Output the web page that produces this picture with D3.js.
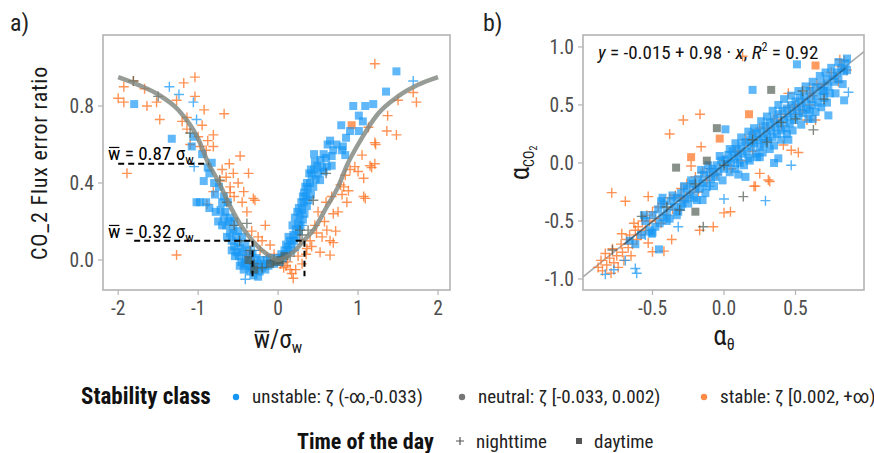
<!DOCTYPE html>
<html>
<head>
<meta charset="utf-8">
<script src="https://cdn.jsdelivr.net/npm/d3@7"></script>
<style>
  body { margin: 0; background: #fff; }
  svg { font-family: "Roboto Condensed", "Liberation Sans Narrow", "DejaVu Sans Condensed", "Noto Sans", sans-serif; }
</style>
</head>
<body>
<div class="plot"></div>
<script>
// ---- panel a data: error ratio vs w/sigma_w ----
var aTicksX = [-2, -1, 0, 1, 2];
var aTicksY = [0, 0.4, 0.8];
var curveX = [-2, -1.75, -1.5, -1.25, -1, -0.87, -0.75, -0.6, -0.45, -0.32, -0.2, -0.1, 0, 0.1, 0.2, 0.32, 0.45, 0.6, 0.75, 0.87, 1, 1.25, 1.5, 1.75, 2];
var curveY = [0.95, 0.91, 0.86, 0.78, 0.63, 0.5, 0.41, 0.28, 0.17, 0.1, 0.05, 0.02, 0, 0.015, 0.045, 0.1, 0.16, 0.27, 0.38, 0.5, 0.6, 0.76, 0.85, 0.91, 0.95];

var aUnstableDay = [[1.48,0.98],[1.35,0.875],[1.19,0.81],[1.09,0.8],[0.94,0.8],[1.01,0.75],[1.06,0.72],[0.79,0.7],[1.01,0.67],[0.9,0.67],[0.85,0.635],[0.73,0.6],[0.81,0.59],[0.69,0.57],[0.8,0.57],[0.67,0.54],[0.84,0.545],[0.46,0.51],[0.61,0.485],[0.67,0.49],[0.57,0.46],[0.525,0.415],[0.325,0.35],
  [-1.8,0.81],[-1.33,0.63],[-1.08,0.59],[-1.06,0.64],[-0.93,0.41],[-0.83,0.505],[-0.79,0.34],[-0.88,0.48],[-0.98,0.3],[-1.02,0.3],[-0.9,0.3],[-0.86,0.27],[-0.78,0.25],[-0.75,0.2],
  [-0.72,0.26],[-0.7,0.3],[-0.68,0.22],[-0.66,0.25],[-0.65,0.18],[-0.62,0.2],[-0.6,0.14],[-0.6,0.22],[-0.58,0.1],[-0.56,0.16],[-0.55,0.07],[-0.53,0.12],[-0.52,0.04],[-0.5,0.09],[-0.49,0.02],[-0.47,0.06],[-0.46,-0.01],[-0.44,0.04],[-0.42,-0.02],[-0.41,0.08],[-0.4,0.01],[-0.38,-0.03],[-0.37,0.05],[-0.35,0],[-0.33,-0.04],[-0.32,0.03],[-0.3,-0.02],[-0.28,-0.05],[-0.27,0.01],[-0.25,-0.03],[-0.23,-0.06],[-0.22,0],[-0.2,-0.04],[-0.18,-0.02],[-0.16,-0.05],[-0.14,0],[-0.12,-0.03],[-0.1,0.01],[-0.25,-0.087],[-0.45,0.12],[-0.5,0.15],[-0.55,0.2],[-0.63,0.3],[-0.68,0.33],[-0.74,0.38],[-0.8,0.4],[-0.86,0.45],[-0.95,0.55],
  [-0.05,-0.02],[0,0.01],[0.02,-0.01],[0.04,0.03],[0.06,0.01],[0.08,0.05],[0.1,0.03],[0.12,0.07],[0.14,0.05],[0.15,0.1],[0.17,0.08],[0.19,0.13],[0.2,0.1],[0.22,0.16],[0.23,0.12],[0.25,0.19],[0.26,0.15],[0.27,0.23],[0.28,0.18],[0.3,0.26],[0.31,0.21],[0.32,0.3],[0.33,0.24],[0.35,0.33],[0.36,0.28],[0.37,0.37],[0.38,0.31],[0.4,0.4],[0.41,0.34],[0.42,0.44],[0.44,0.38],[0.45,0.47],[0.47,0.42],[0.49,0.49],[0.5,0.45],[0.53,0.52],[0.55,0.48],[0.57,0.55],[0.6,0.53],[0.62,0.6],[0.65,0.62],[0.29,0.3],[0.34,0.38],[0.39,0.45],[0.45,0.55],[0.24,0.25],
  [0.18,0.18],[0.21,0.22],[0.26,0.27],[0.31,0.33],[0.36,0.4],[0.41,0.47],[0.1,0.08],[0.13,0.12],[-0.58,0.05],[-0.54,0.02],[-0.48,-0.03],[-0.43,-0.05],[-0.36,-0.06],[-0.31,-0.08],[-0.64,0.12],[-0.7,0.18]];
var aUnstableNight = [[-1.36,0.9],[-1.24,0.86],[-1.06,0.82],[-1.02,0.73],[-1.05,0.485],[1.69,0.93],[-0.41,-0.1],[-0.3,0.05],[0.2,0.05],[0.3,0.18]];
var aStableNight = [[-2,0.84],[-1.93,0.9],[-1.81,0.93],[-1.67,0.89],[-1.93,0.82],[-1.64,0.8],[-1.52,0.82],[-1.48,0.73],[-1.18,0.92],[-1.04,0.95],[-1.27,0.83],[-1.04,0.85],[-1.14,0.74],[-0.925,0.78],[-1.14,0.68],[-1,0.64],[-0.81,0.65],[-0.675,0.76],[-0.975,0.59],[-0.81,0.59],[-0.9,0.57],[-0.61,0.5],[-0.475,0.54],[-0.37,0.45],[-0.56,0.45],[-1.89,0.45],[-0.725,0.41],[-0.6,0.38],[-0.43,0.355],[-0.31,0.32],[-1.2,0.72],[-1.1,0.6],[-0.95,0.7],[-0.88,0.62],[-0.7,0.47],[-0.65,0.43],[-0.5,0.4],[-0.45,0.3],[-0.55,0.33],
  [1.21,1.02],[1.69,0.87],[1.73,0.82],[1.5,0.83],[1.37,0.75],[1.36,0.67],[1.48,0.65],[1.21,0.61],[1.22,0.6],[1.13,0.69],[1.05,0.545],[0.96,0.485],[1.15,0.49],[1.21,0.5],[0.9,0.47],[1,0.46],[1.17,0.48],[1.07,0.425],[0.84,0.44],[0.82,0.38],[0.88,0.36],[0.8,0.34],[1.07,0.33],[0.67,0.33],
  [0.69,0.09],[0.86,0.3],[1.09,0.32],[0.78,0.39],[0.65,0.025],[0.525,0.04],[0.48,0.14],[0.61,0.155],[0.69,0.24],[0.19,-0.095],[0.15,-0.05],[-1.27,0.026],[-0.16,0.18],[-0.29,0.31],[-0.39,0.25],[-0.6,0.35],[-0.81,0.355],[-0.89,0.29],[-0.1,0.078],[0.275,0.104],[0.36,0.06],[0.46,0.18],
  [0.07,-0.04],[0.03,-0.02],[0.1,-0.03],[0.17,-0.07],[-0.14,0.017],[-0.225,0.05],[-0.2,0.1],[-0.05,0.03],[0.12,-0.01],[0.25,0.02],[0.4,0.1],[0.55,0.12],[0.58,0.2],[0.5,0.25],[0.72,0.15],[0.42,0.07],[0.3,-0.02],[0.22,-0.05],[-0.33,0.15],[-0.25,0.12],[0.6,0.3],[0.75,0.25],[0.35,0.03],[0.65,0.1]];
var aStableDay = [[0.92,0.7],[-0.38,0.03]];
var aNeutralNight = [[-1.1,0.66],[-1.81,0.93],[-1.5,0.85],[-0.64,0.3],[-0.39,0.19],[-0.73,0.415],[0.44,0.31],[0.375,0.155],[0.275,0.155],[-0.05,0],[0.05,-0.01],[-0.2,-0.04],[-0.3,-0.02],[0.15,0.02],[0.6,0.45],[-0.55,0.18],[-0.35,0.05],[-0.48,0.1],[0.3,0.13]];
var aNeutralDay = [[-0.37,0],[-0.02,-0.01],[0.02,0],[-0.1,-0.02],[0.08,0.02],[-0.3,-0.05]];

// ---- panel b data: alpha_CO2 vs alpha_theta ----
var bTicksX = [-0.5, 0, 0.5];
var bTicksY = [-1, -0.5, 0, 0.5, 1];
var fitX = [-0.986, 0.979];
var fitY = [-0.981, 0.96];
var bUnstableDay = [[-0.58,-0.62],[-0.55,-0.5],[-0.52,-0.58],[-0.5,-0.45],[-0.48,-0.55],[-0.46,-0.4],[-0.45,-0.52],[-0.43,-0.47],[-0.42,-0.36],[-0.4,-0.43],[-0.38,-0.48],[-0.37,-0.33],[-0.35,-0.38],[-0.33,-0.3],[-0.32,-0.42],[-0.3,-0.26],[-0.29,-0.35],[-0.27,-0.31],[-0.26,-0.22],[-0.24,-0.28],[-0.22,-0.18],[-0.21,-0.3],[-0.2,-0.23],[-0.18,-0.14],[-0.17,-0.22],[-0.15,-0.17],[-0.14,-0.1],[-0.12,-0.2],[-0.1,-0.08],[-0.09,-0.14],[-0.08,-0.05],[-0.06,-0.12],[-0.05,-0.02],[-0.04,-0.08],[-0.02,0.02],[0,-0.05],[0.01,0.03],[0.02,-0.01],[0.03,0.07],[0.05,0],[0.06,0.1],[0.07,0.04],[0.09,0.12],[0.1,0.06],[0.11,0],[0.12,0.15],[0.13,0.08],[0.15,0.18],[0.16,0.1],[0.17,0.04],[0.18,0.2],[0.19,0.14],[0.2,0.24],[0.21,0.17],[0.22,0.08],[0.23,0.26],[0.24,0.2],[0.25,0.14],[0.26,0.29],[0.27,0.22],[0.28,0.16],[0.29,0.32],[0.3,0.25],[0.31,0.19],[0.32,0.35],[0.33,0.28],[0.34,0.22],[0.35,0.38],[0.36,0.31],[0.37,0.25],[0.38,0.42],[0.39,0.34],[0.4,0.28],[0.41,0.45],[0.42,0.37],[0.43,0.3],[0.44,0.47],[0.45,0.4],[0.46,0.34],[0.47,0.5],[0.48,0.43],[0.49,0.37],[0.5,0.53],[0.51,0.46],[0.52,0.4],[0.53,0.56],[0.54,0.49],[0.55,0.43],[0.56,0.58],[0.57,0.52],[0.58,0.46],[0.6,0.62],[0.61,0.55],[0.62,0.5],[0.64,0.65],[0.65,0.58],[0.66,0.52],[0.68,0.68],[0.69,0.62],[0.7,0.56],[0.72,0.72],[0.73,0.66],[0.74,0.6],[0.76,0.75],[0.77,0.7],[0.79,0.78],[0.8,0.72],[0.82,0.82],[0.84,0.79],[0.85,0.86],[0.86,0.8],
  [0.51,0.85],[0.73,0.41],[0.84,0.54],[0.38,0.04],[0.01,0.29],[-0.505,-0.61],[-0.455,-0.745],[-0.43,-0.3],[0.2,0.63],[-0.62,-0.7],[-0.66,-0.67],[0.45,0.2],[0.62,0.38],[0.25,0.05],[0.1,-0.1],[-0.15,-0.32],
  [-0.56,-0.45],[-0.5,-0.6],[-0.44,-0.33],[-0.4,-0.5],[-0.36,-0.28],[-0.33,-0.45],[-0.3,-0.38],[-0.28,-0.2],[-0.25,-0.35],[-0.23,-0.15],[-0.19,-0.32],[-0.16,-0.06],[-0.13,-0.26],[-0.11,-0.02],[-0.07,-0.2],[-0.03,0.06],[-0.01,-0.15],[0.04,0.12],[0.04,-0.08],[0.08,0.17],[0.08,-0.05],[0.12,0.22],[0.14,-0.02],[0.17,0.27],[0.18,0.02],[0.21,0.3],[0.23,0.05],[0.26,0.36],[0.27,0.09],[0.3,0.4],[0.32,0.12],[0.34,0.45],[0.35,0.15],[0.38,0.5],[0.4,0.2],[0.42,0.55],[0.44,0.25],[0.47,0.58],[0.48,0.28],[0.52,0.62],[0.54,0.33],[0.57,0.66],[0.59,0.38],[0.62,0.7],[0.64,0.44],[0.67,0.75],[0.68,0.48],[0.71,0.78],[0.72,0.52],[0.75,0.82],[0.78,0.6],[0.8,0.87],[0.83,0.68],[0.86,0.9],[0.7,0.62],[0.6,0.45],[0.35,0],[0.15,-0.12]];
var bUnstableNight = [[0.87,0.61],[0.47,-0.02],[0.29,-0.325],[0,-0.31],[-0.32,-0.55],[-0.62,-0.91],[-0.61,-0.95],[-0.83,-0.96],[-0.77,-0.92],[-0.69,-0.84],[0.3,0.2],[-0.1,-0.2],[0.1,0],[-0.55,-0.62]];
var bStableNight = [[-0.88,-0.9],[-0.86,-0.84],[-0.85,-0.93],[-0.83,-0.78],[-0.82,-0.88],[-0.8,-0.82],[-0.79,-0.95],[-0.78,-0.74],[-0.77,-0.86],[-0.75,-0.8],[-0.74,-0.9],[-0.72,-0.7],[-0.71,-0.77],[-0.7,-0.84],[-0.68,-0.66],[-0.67,-0.73],[-0.66,-0.62],[-0.65,-0.8],[-0.64,-0.7],[-0.62,-0.58],[-0.61,-0.66],[-0.6,-0.55],[-0.58,-0.62],[-0.57,-0.5],[-0.55,-0.58],[-0.54,-0.45],[-0.52,-0.5],[-0.5,-0.42],[-0.48,-0.48],[-0.46,-0.38],[-0.44,-0.52],[-0.42,-0.35],[-0.4,-0.45],[-0.38,-0.3],[-0.36,-0.4],[-0.34,-0.28],[-0.3,-0.22],[-0.28,-0.32],[-0.26,-0.18],[-0.24,-0.26],[-0.2,-0.12],[-0.18,-0.25],[-0.15,-0.08],[-0.12,-0.15],[-0.1,-0.05],[-0.05,-0.1],[0,0.02],[0.05,-0.05],[0.08,0.1],[0.12,0.02],[0.15,0.2],[0.2,0.1],[0.25,0.3],[0.3,0.2],[0.35,0.38],[0.4,0.32],[0.45,0.48],[0.5,0.42],[0.55,0.55],[0.6,0.5],[0.65,0.68],[0.7,0.6],[0.75,0.78],[0.8,0.7],[0.82,0.83],[0.86,0.8],[0.84,0.88],[0.55,0.45],[0.62,0.58],
  [-0.168,0.42],[-0.285,0.37],[-0.38,0.25],[-0.16,0.14],[-0.23,-0.026],[0.64,0.37],[0.58,0.37],[0.52,0.09],[0.47,0.11],[0.415,0.155],[0.31,-0.147],[0.21,-0.2],[0.25,-0.09],[-0.785,-0.256],[-0.69,-0.33],[-0.53,-0.29],[-0.63,-0.52],[-0.715,-0.61],[-0.366,-0.66],[-0.42,-0.76],[-0.5,-0.765],[-0.53,-0.69],[0,-0.43],[0.045,-0.42],[-0.075,-0.55],[-0.17,-0.58],[0.22,-0.2],[0.32,-0.16],[0.45,0.6],[0.6,0.65],[0.13,0.92],[0.81,0.89],
  [-0.3,-0.3],[-0.1,-0.12],[0.1,0.1],[0.3,0.3],[0.5,0.5],[0.7,0.68],[0.2,0.25],[0.4,0.42],[-0.2,-0.2],[0.6,0.6]];
var bStableDay = [[0.64,0.84],[0.175,0.42],[-0.03,0.21],[-0.23,0.05]];
var bNeutralNight = [[0.625,0.285],[0.135,-0.29],[-0.145,-0.55],[-0.575,-0.46],[-0.31,-0.405],[0.55,0.62],[0.4,0.35],[0.2,0.2],[0,-0.02],[-0.2,-0.18],[-0.4,-0.38],[-0.78,-0.75],[0.7,0.55],[0.3,0.18],[0.5,0.38]];
var bNeutralDay = [[0.33,0.63],[-0.05,0.3],[-0.335,-0.04],[-0.2,-0.42],[-0.12,0.02]];

// legend labels
var stabilityLabels = ["unstable: \u03b6 (-\u221e,-0.033)", "neutral: \u03b6 [-0.033, 0.002)", "stable: \u03b6 [0.002, +\u221e)"];
var timeLabels = ["nighttime", "daytime"];

var colUnstable = "#1596f5", colNeutral = "#4f5b52", colStable = "#ff6a14";

var svg = d3.select(".plot").append("svg").attr("width", 874).attr("height", 453);

function fmt(v) { return d3.format(".1f")(v).replace("\u2212", "-"); }
function fmtInt(v) { return String(v); }

function drawAxes(x, y, ticksX, ticksY, fx, fy) {
  var x0 = x.range()[0], x1 = x.range()[1], y0 = y.range()[0], y1 = y.range()[1];
  svg.append("rect").attr("x", x0).attr("y", y1).attr("width", x1 - x0).attr("height", y0 - y1)
    .attr("fill", "none").attr("stroke", "#b3b3b3").attr("stroke-width", 1.6);
  ticksX.forEach(function(t) {
    svg.append("line").attr("x1", x(t)).attr("x2", x(t)).attr("y1", y0).attr("y2", y0 + 5).attr("stroke", "#b3b3b3").attr("stroke-width", 1.2);
    svg.append("text").attr("x", x(t)).attr("y", y0 + 25).attr("text-anchor", "middle")
      .attr("font-size", 19.5).attr("fill", "#4d4d4d").text(fx(t));
  });
  ticksY.forEach(function(t) {
    svg.append("line").attr("x1", x0 - 5).attr("x2", x0).attr("y1", y(t)).attr("y2", y(t)).attr("stroke", "#b3b3b3").attr("stroke-width", 1.2);
    svg.append("text").attr("x", x0 - 9).attr("y", y(t) + 7).attr("text-anchor", "end")
      .attr("font-size", 19.5).attr("fill", "#4d4d4d").text(fy(t));
  });
}

function drawPoints(g, data, x, y, shape, color) {
  var sel = g.selectAll(null).data(data).enter();
  if (shape === "square") {
    sel.append("rect")
      .attr("x", function(d) { return x(d[0]) - 4; })
      .attr("y", function(d) { return y(d[1]) - 4; })
      .attr("width", 8).attr("height", 8)
      .attr("fill", color).attr("fill-opacity", 0.68);
  } else {
    sel.append("path")
      .attr("d", "M-5,0H5M0,-5V5")
      .attr("transform", function(d) { return "translate(" + x(d[0]) + "," + y(d[1]) + ")"; })
      .attr("stroke", color).attr("stroke-width", 1.4).attr("stroke-opacity", 0.72).attr("fill", "none");
  }
}

// "w" with a bar drawn just above its x-height
function barW(textSel, fs, yBase, color) {
  var node = textSel.node();
  var ext = node.getExtentOfChar(0);
  svg.append("line").attr("x1", ext.x + 1).attr("x2", ext.x + ext.width - 1)
    .attr("y1", yBase - 0.66 * fs).attr("y2", yBase - 0.66 * fs)
    .attr("stroke", color).attr("stroke-width", Math.max(1.2, fs / 16));
}

// ===== panel a =====
var xa = d3.scaleLinear().domain([-2.19, 2.15]).range([103, 450]);
var ya = d3.scaleLinear().domain([-0.156, 1.169]).range([290, 35]);
drawAxes(xa, ya, aTicksX, aTicksY, fmtInt, fmt);

var ga = svg.append("g");
drawPoints(ga, aStableNight, xa, ya, "plus", colStable);
drawPoints(ga, aStableDay, xa, ya, "square", colStable);
drawPoints(ga, aUnstableDay, xa, ya, "square", colUnstable);
drawPoints(ga, aUnstableNight, xa, ya, "plus", colUnstable);
drawPoints(ga, aNeutralNight, xa, ya, "plus", colNeutral);
drawPoints(ga, aNeutralDay, xa, ya, "square", colNeutral);

var curve = curveX.map(function(v, i) { return [v, curveY[i]]; });
svg.append("path").datum(curve)
  .attr("d", d3.line().x(function(d) { return xa(d[0]); }).y(function(d) { return ya(d[1]); }).curve(d3.curveMonotoneX))
  .attr("fill", "none").attr("stroke", "#7d857c").attr("stroke-opacity", 0.8).attr("stroke-width", 4.5);

// dashed guides
var dash = svg.append("g").attr("stroke", "#000").attr("stroke-width", 2).attr("stroke-dasharray", "6,4").attr("fill", "none");
dash.append("line").attr("x1", xa(-2)).attr("x2", xa(-0.87)).attr("y1", ya(0.5)).attr("y2", ya(0.5));
dash.append("line").attr("x1", xa(-1.8)).attr("x2", xa(-0.32)).attr("y1", ya(0.1)).attr("y2", ya(0.1));
dash.append("line").attr("x1", xa(0.22)).attr("x2", xa(0.33)).attr("y1", ya(0.1)).attr("y2", ya(0.1));
dash.append("line").attr("x1", xa(-0.32)).attr("x2", xa(-0.32)).attr("y1", ya(0.1)).attr("y2", ya(-0.085));
dash.append("line").attr("x1", xa(0.33)).attr("x2", xa(0.33)).attr("y1", ya(0.1)).attr("y2", ya(-0.085));

function wLabel(xp, yp, txt) {
  var t = svg.append("text").attr("x", xp).attr("y", yp).attr("font-size", 19).attr("fill", "#000");
  t.append("tspan").text("w");
  t.append("tspan").text(" = " + txt + " \u03c3");
  t.append("tspan").attr("font-size", 13).attr("dy", 4).text("w");
  barW(t, 19, yp, "#000");
}
wLabel(108, 160, "0.87");
wLabel(108, 238, "0.32");

svg.append("text").attr("x", 10).attr("y", 31).attr("font-size", 24).attr("fill", "#222").text("a)");
svg.append("text").attr("transform", "translate(47,163) rotate(-90)").attr("text-anchor", "middle")
  .attr("font-size", 22).attr("letter-spacing", 0.8).attr("fill", "#1a1a1a").text("CO_2 Flux error ratio");
var xtA = svg.append("text").attr("x", 278).attr("y", 348).attr("text-anchor", "middle").attr("font-size", 25).attr("fill", "#1a1a1a");
xtA.append("tspan").text("w");
xtA.append("tspan").text("/\u03c3");
xtA.append("tspan").attr("font-size", 16).attr("dy", 5).text("w");
barW(xtA, 25, 348, "#1a1a1a");

// ===== panel b =====
var xb = d3.scaleLinear().domain([-0.986, 0.979]).range([583, 864]);
var yb = d3.scaleLinear().domain([-1.095, 1.103]).range([290, 35]);
drawAxes(xb, yb, bTicksX, bTicksY, fmt, fmt);

svg.append("line").attr("x1", xb(fitX[0])).attr("x2", xb(fitX[1])).attr("y1", yb(fitY[0])).attr("y2", yb(fitY[1]))
  .attr("stroke", "#aaaaaa").attr("stroke-width", 1.6);

var gb = svg.append("g");
drawPoints(gb, bStableNight, xb, yb, "plus", colStable);
drawPoints(gb, bStableDay, xb, yb, "square", colStable);
drawPoints(gb, bUnstableDay, xb, yb, "square", colUnstable);
drawPoints(gb, bUnstableNight, xb, yb, "plus", colUnstable);
drawPoints(gb, bNeutralNight, xb, yb, "plus", colNeutral);
drawPoints(gb, bNeutralDay, xb, yb, "square", colNeutral);

svg.append("line").attr("x1", xb(-0.7)).attr("x2", xb(0.85)).attr("y1", yb(-0.701)).attr("y2", yb(0.818))
  .attr("stroke", "#24475e").attr("stroke-opacity", 0.6).attr("stroke-width", 1.6);

var eq = svg.append("text").attr("x", 598).attr("y", 59).attr("font-size", 19).attr("fill", "#111");
eq.append("tspan").attr("font-style", "italic").text("y");
eq.append("tspan").text(" = -0.015 + 0.98 \u00b7 ");
eq.append("tspan").attr("font-style", "italic").text("x");
eq.append("tspan").text(",  ");
eq.append("tspan").attr("font-style", "italic").text("R");
eq.append("tspan").attr("font-size", 12).attr("dy", -8).text("2");
eq.append("tspan").attr("dy", 8).text(" = 0.92");

svg.append("text").attr("x", 483).attr("y", 31).attr("font-size", 24).attr("fill", "#222").text("b)");
var ytB = svg.append("text").attr("transform", "translate(529,163) rotate(-90)").attr("text-anchor", "middle").attr("fill", "#1a1a1a");
ytB.append("tspan").attr("font-size", 27).text("\u03b1");
ytB.append("tspan").attr("font-size", 14).attr("dy", 5).text("CO");
ytB.append("tspan").attr("font-size", 10).attr("dy", 3).text("2");
var xtB = svg.append("text").attr("x", 724).attr("y", 345).attr("text-anchor", "middle").attr("fill", "#1a1a1a");
xtB.append("tspan").attr("font-size", 27).text("\u03b1");
xtB.append("tspan").attr("font-size", 16).attr("dy", 5).text("\u03b8");

// ===== legends =====
var stabX = [236, 462, 704];
var stabCol = [colUnstable, "#777", "#ff8a45"];
svg.append("text").attr("x", 81).attr("y", 404).attr("font-size", 23).attr("font-weight", "bold").attr("fill", "#111").text("Stability class");
stabilityLabels.forEach(function(l, i) {
  svg.append("circle").attr("cx", stabX[i]).attr("cy", 397).attr("r", 3.2).attr("fill", stabCol[i]);
  svg.append("text").attr("x", stabX[i] + 16).attr("y", 403).attr("font-size", 19).attr("fill", "#222").text(l);
});
svg.append("text").attr("x", 297).attr("y", 449).attr("font-size", 22).attr("font-weight", "bold").attr("fill", "#111").text("Time of the day");
svg.append("path").attr("d", "M-4,0H4M0,-4V4").attr("transform", "translate(460,441)").attr("stroke", "#555").attr("stroke-width", 1.2);
svg.append("rect").attr("x", 576).attr("y", 438).attr("width", 6).attr("height", 6).attr("fill", "#555");
timeLabels.forEach(function(l, i) {
  svg.append("text").attr("x", [476, 594][i]).attr("y", 448).attr("font-size", 19).attr("fill", "#222").text(l);
});
</script>
</body>
</html>
